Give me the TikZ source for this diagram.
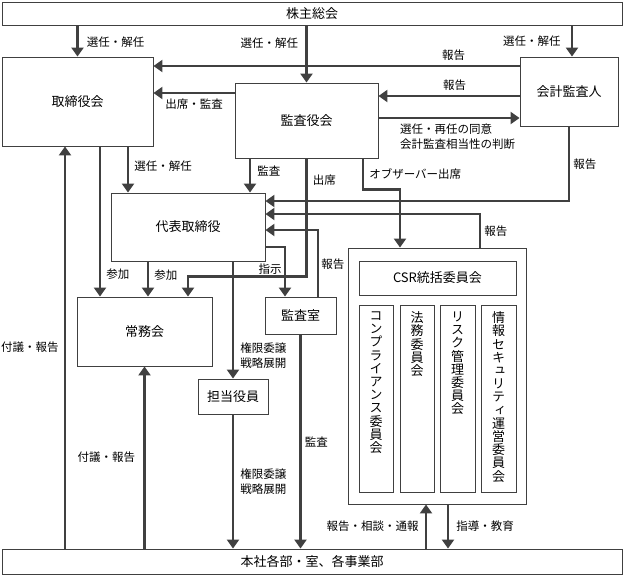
\documentclass[tikz,border=0pt]{standalone}
\usepackage{fontspec}
\setmainfont{Noto Sans CJK JP}
\newfontfamily\vjp[RawFeature=+vert]{Noto Sans CJK JP}
\usepackage{tikz}
\usetikzlibrary{arrows.meta,positioning}
\definecolor{linegray}{HTML}{404040}

\begin{document}
\begin{tikzpicture}[x=1pt, y=-1pt,
        box/.style={draw=linegray, line width=0.9pt, fill=white, inner sep=0pt, font=\fontsize{13}{15}\selectfont},
        arr/.style={draw=linegray, line width=2.6pt, -{Triangle[width=12pt,length=9pt]}},
        lbl/.style={font=\fontsize{11.5}{15}\selectfont, inner sep=2pt, text=black},
        vtext/.style={anchor=north, align=center, inner sep=0pt, font=\vjp\fontsize{13}{13.2}\selectfont}]
        \useasboundingbox (0,0) rectangle (623,576);

        % Top and bottom bars
        \node[box, minimum width=620pt, minimum height=23pt] (kabu) at (312,13.5) {株主総会};
        \node[box, minimum width=620pt, minimum height=25pt] (honsha) at (312,561.5) {本社各部・室、各事業部};

        % Boards
        \node[box, minimum width=151pt, minimum height=89pt] (torikai) at (77.5,101.5) {取締役会};
        \node[box, minimum width=143pt, minimum height=75pt] (kansayaku) at (306.5,120.5) {監査役会};
        \node[box, minimum width=98pt, minimum height=69pt] (kaikei) at (569,91.5) {会計監査人};
        \node[box, minimum width=154pt, minimum height=68pt] (daihyo) at (188,227) {代表取締役};
        \node[box, minimum width=135pt, minimum height=69pt] (jomu) at (144.5,331.5) {常務会};
        \node[box, minimum width=71pt, minimum height=37pt] (kansashitsu) at (300.5,315.5) {監査室};
        \node[box, minimum width=70pt, minimum height=35pt] (tanto) at (233,396.5) {担当役員};

        % CSR committees
        \node[box, minimum width=178pt, minimum height=256pt] (csr) at (437,376) {};
        \node[box, minimum width=157pt, minimum height=34pt] (csrtop) at (437.5,278) {CSR統括委員会};
        \node[box, minimum width=34pt, minimum height=187pt] (comp) at (376,398.5) {};
        \node[box, minimum width=34pt, minimum height=187pt] (homu) at (417,398.5) {};
        \node[box, minimum width=35pt, minimum height=187pt] (risk) at (457.5,398.5) {};
        \node[box, minimum width=35pt, minimum height=187pt] (joho) at (498.5,398.5) {};
        \node[vtext] (compt) at ([yshift=-7pt]comp.north) {コ\\ン\\プ\\ラ\\イ\\ア\\ン\\ス\\委\\員\\会};
        \node[vtext] (homut) at ([yshift=-7pt]homu.north) {法\\務\\委\\員\\会};
        \node[vtext] (riskt) at ([yshift=-7pt]risk.north) {リ\\ス\\ク\\管\\理\\委\\員\\会};
        \node[vtext] (johot) at ([yshift=-7pt]joho.north) {情\\報\\セ\\キ\\ュ\\リ\\テ\\ィ\\運\\営\\委\\員\\会};

        % From the shareholders
        \draw[arr] (kabu.south -| torikai) -- (torikai.north)
            node[lbl, midway, right, xshift=6pt, yshift=-1pt] {選任・解任};
        \draw[arr] (kabu.south -| kansayaku) -- (kansayaku.north)
            node[lbl, pos=0.31, left, xshift=-5pt] {選任・解任};
        \draw[arr] ([xshift=3pt]kabu.south -| kaikei) -- ([xshift=3pt]kaikei.north)
            node[lbl, midway, left, xshift=-8pt] {選任・解任};

        % Auditor links
        \draw[arr] ([yshift=25.5pt]kaikei.west) -- ([yshift=25.5pt]kaikei.west -| torikai.east)
            node[lbl, pos=0.18, above, yshift=2pt] {報告};
        \draw[arr] ([yshift=-4.5pt]kaikei.west) -- ([yshift=-4.5pt]kaikei.west -| kansayaku.east)
            node[lbl, pos=0.46, above, yshift=2pt] {報告};
        \draw[arr] ([yshift=2.5pt]kansayaku.east) -- ([yshift=2.5pt]kansayaku.east -| kaikei.west)
            node[lbl, pos=0.13, below right, align=left, yshift=-3pt] {選任・再任の同意\\会計監査相当性の判断};
        \draw[arr] ([yshift=27.5pt]kansayaku.west) -- ([yshift=27.5pt]kansayaku.west -| torikai.east)
            node[lbl, midway, below, yshift=-3pt] {出席・監査};

        % Down to the representative director
        \draw[arr] ([xshift=50.5pt]torikai.south) -- ([xshift=50.5pt]torikai.south |- daihyo.north)
            node[lbl, pos=0.43, right, xshift=3pt] {選任・解任};
        \draw[arr] ([xshift=-56.5pt]kansayaku.south) -- ([xshift=-56.5pt]kansayaku.south |- daihyo.north)
            node[lbl, pos=0.37, right, xshift=4pt] {監査};
        \draw[arr] (kansayaku.south) |- node[lbl, pos=0.09, right, xshift=3pt] {出席}
            ([xshift=43.5pt,yshift=20pt]jomu.north) -- ([xshift=43.5pt]jomu.north);
        \draw[arr] ([xshift=56.5pt]kansayaku.south) |- node[lbl, pos=0.25, right, xshift=3pt] {オブザーバー出席}
            ([xshift=-37pt,yshift=58pt]csr.north) -- ([xshift=-37pt]csr.north);

        % Reports into the representative director
        \draw[arr] (kaikei.south) |- ([yshift=26pt]daihyo.east)
            node[lbl, pos=0.25, right, xshift=1pt] {報告};
        \draw[arr] ([xshift=43pt]csr.north) |- ([yshift=13pt]daihyo.east)
            node[lbl, pos=0.25, right, xshift=1pt] {報告};
        \draw[arr] ([xshift=17.5pt]kansashitsu.north) |- ([yshift=-3pt]daihyo.east)
            node[lbl, pos=0.24, right] {報告};
        \draw[arr] ([yshift=-20pt]daihyo.east) -| ([xshift=-15.5pt]kansashitsu.north)
            node[lbl, pos=0.72, left] {指示};

        % Executive committee
        \draw[arr] ([xshift=22.5pt]torikai.south) -- ([xshift=22.5pt]torikai.south |- jomu.north)
            node[lbl, pos=0.85, right, xshift=3pt] {参加};
        \draw[arr] ([xshift=-40pt]daihyo.south) -- ([xshift=-40pt]daihyo.south |- jomu.north)
            node[lbl, pos=0.39, right, xshift=3pt] {参加};
        \draw[arr] ([xshift=-12.5pt]torikai.south |- honsha.north) -- ([xshift=-12.5pt]torikai.south)
            node[lbl, midway, left, xshift=-3pt] {付議・報告};
        \draw[arr] (honsha.north -| jomu) -- (jomu.south)
            node[lbl, midway, left, xshift=-6pt] {付議・報告};

        % Delegation and audit
        \draw[arr] (daihyo.south -| tanto) -- (tanto.north)
            node[lbl, pos=0.8, right, align=left, xshift=4pt] {権限委譲\\戦略展開};
        \draw[arr] (tanto.south) -- (tanto.south |- honsha.north)
            node[lbl, midway, right, align=left, xshift=4pt] {権限委譲\\戦略展開};
        \draw[arr] (kansashitsu.south) -- (kansashitsu.south |- honsha.north)
            node[lbl, midway, right, xshift=1pt] {監査};

        % CSR and departments
        \draw[arr] ([xshift=-11pt]csr.south |- honsha.north) -- ([xshift=-11pt]csr.south)
            node[lbl, midway, left, xshift=-4pt] {報告・相談・通報};
        \draw[arr] ([xshift=11pt]csr.south) -- ([xshift=11pt]csr.south |- honsha.north)
            node[lbl, midway, right, xshift=5pt] {指導・教育};
    \end{tikzpicture}
\end{document}
